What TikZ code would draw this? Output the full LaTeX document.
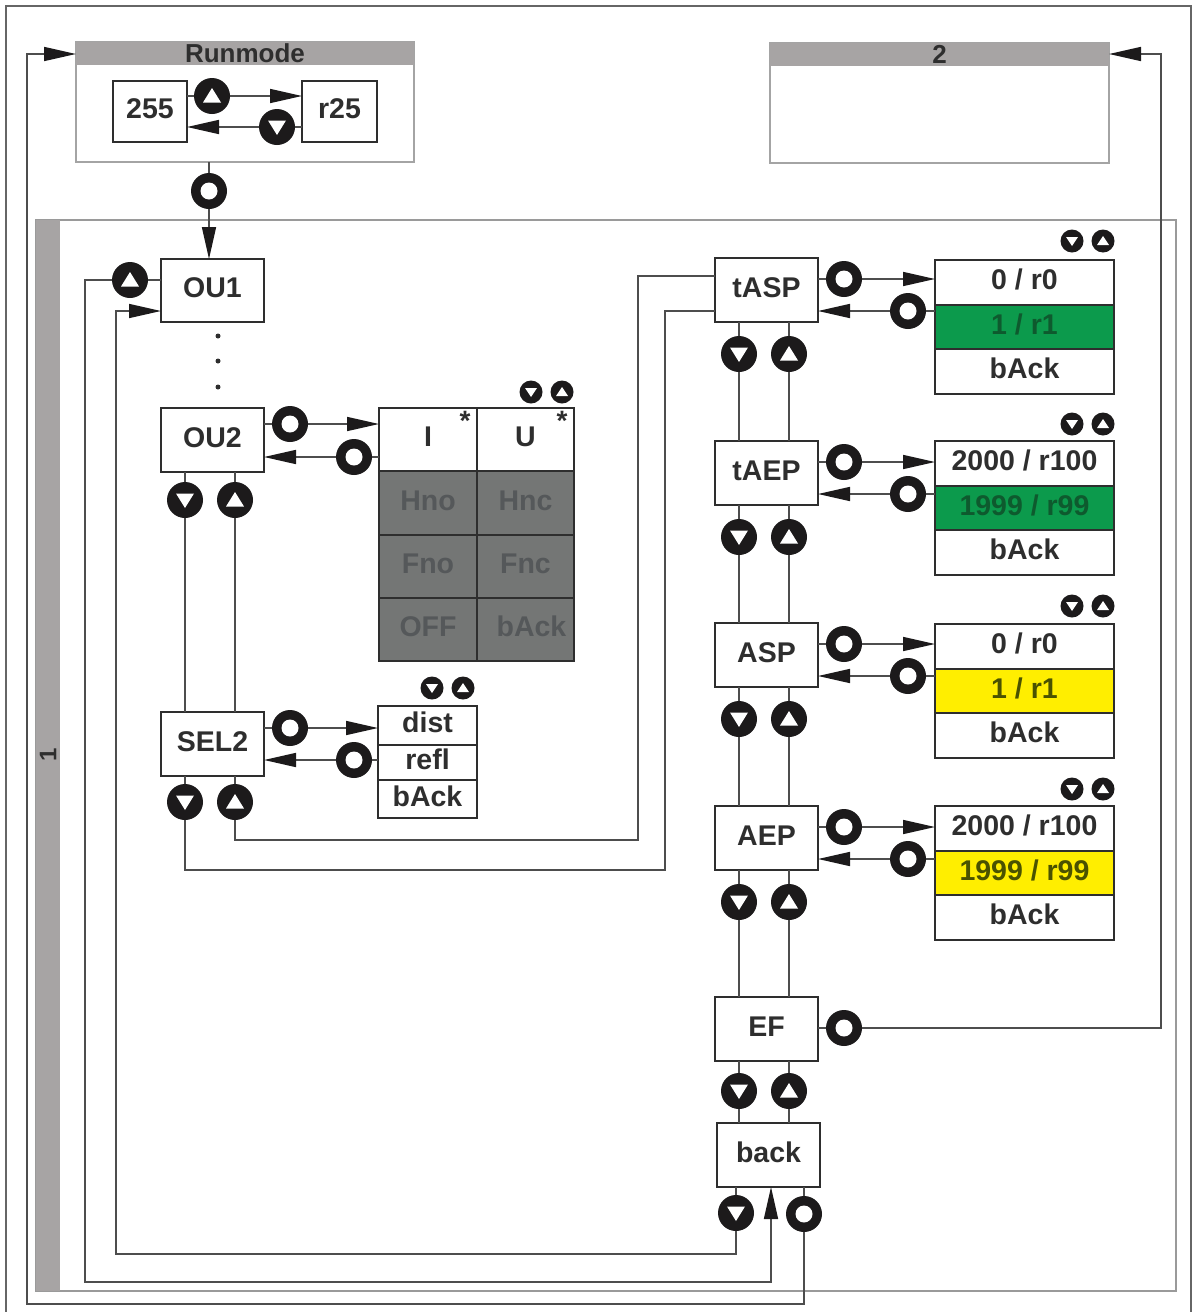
\documentclass[tikz,border=0pt]{standalone}
\usepackage{fontspec}
\setmainfont{Liberation Sans}
\usetikzlibrary{arrows.meta,calc}
\definecolor{ink}{HTML}{2E2E2E}
\definecolor{btnk}{HTML}{1C1A1B}
\definecolor{headg}{HTML}{A7A4A4}
\definecolor{frameg}{HTML}{9A9A9A}
\definecolor{outerg}{HTML}{666666}
\definecolor{cellg}{HTML}{747675}
\definecolor{celltxt}{HTML}{55585A}
\definecolor{grn}{HTML}{0C9A4C}
\definecolor{grntxt}{HTML}{0E5A2E}
\definecolor{yel}{HTML}{FFEE00}
\definecolor{yeltxt}{HTML}{4A5200}
\tikzset{
  x=1pt,y=-1pt,
  boxstyle/.style={draw=ink,line width=2pt,fill=white,inner sep=0pt,outer sep=0pt,
    font=\fontsize{28.5}{30}\selectfont\bfseries,text=ink,text height=20.5pt,text depth=6pt,align=center},
  btnbig/.style={circle,fill=btnk,minimum size=36pt,inner sep=0pt,outer sep=0pt},
  btnsmall/.style={circle,fill=btnk,minimum size=23pt,inner sep=0pt,outer sep=0pt},
  conn/.style={draw=ink!85,line width=1.6pt},
  arrowconn/.style={conn,-{Triangle[length=32pt,width=14pt,color=btnk]}},
  panel/.style={draw=frameg!90,line width=2pt,inner sep=0pt,outer sep=0pt},
  headbar/.style={fill=headg,draw=none,inner sep=0pt,outer sep=0pt,text=ink,
    font=\fontsize{26}{27}\selectfont\bfseries},
  dotnode/.style={circle,fill=ink,minimum size=5pt,inner sep=0pt},
}
% box from corners
\newcommand{\bx}[6][]{\node[boxstyle,minimum width={(#4-#2)*1pt},minimum height={(#5-#3)*1pt},#1] (#6) at ({(#2+#4)/2},{(#3+#5)/2})}
% name, x, y : buttons
\newcommand{\btnO}[3]{\node[btnbig] (#1) at (#2,#3) {};\fill[white] (#1.center) circle (8.5pt);}
\newcommand{\btnU}[3]{\node[btnbig] (#1) at (#2,#3) {};\fill[white] ([shift={(0,-8)}]#1.center) -- ([shift={(9,6.5)}]#1.center) -- ([shift={(-9,6.5)}]#1.center) -- cycle;}
\newcommand{\btnD}[3]{\node[btnbig] (#1) at (#2,#3) {};\fill[white] ([shift={(0,8)}]#1.center) -- ([shift={(9,-6.5)}]#1.center) -- ([shift={(-9,-6.5)}]#1.center) -- cycle;}
\newcommand{\smU}[3]{\node[btnsmall] (#1) at (#2,#3) {};\fill[white] ([shift={(0,-5)}]#1.center) -- ([shift={(6,4)}]#1.center) -- ([shift={(-6,4)}]#1.center) -- cycle;}
\newcommand{\smD}[3]{\node[btnsmall] (#1) at (#2,#3) {};\fill[white] ([shift={(0,5)}]#1.center) -- ([shift={(6,-4)}]#1.center) -- ([shift={(-6,-4)}]#1.center) -- cycle;}
% right-hand parameter group: name,label,ytop,tabletop,row1,row2,fill,textcolour
\newcommand{\paramgroup}[8]{%
  \pgfmathsetmacro{\ya}{#3+64}\pgfmathsetmacro{\ta}{#4+44.5}\pgfmathsetmacro{\tb}{#4+89}\pgfmathsetmacro{\tc}{#4+134}%
  \bx{715}{#3}{818}{\ya}{#1} {#2};
  \bx{935}{#4}{1114}{\ta}{#1a} {#5};
  \bx[fill=#7,text=#8]{935}{\ta}{1114}{\tb}{#1b} {#6};
  \bx{935}{\tb}{1114}{\tc}{#1c} {bAck};
  \pgfmathsetmacro{\ym}{#3+21}\btnO{#1in}{844}{\ym}
  \pgfmathsetmacro{\ym}{#3+53}\btnO{#1out}{908}{\ym}
  \pgfmathsetmacro{\ym}{#3+96}\btnD{#1d}{739}{\ym}\btnU{#1u}{789}{\ym}
  \pgfmathsetmacro{\ym}{#3-17}\smD{#1sd}{1072}{\ym}\smU{#1su}{1103}{\ym}
  \draw[conn] (#1.east |- #1in) -- (#1in);
  \draw[arrowconn] (#1in) -- (#1in -| #1a.west);
  \draw[conn] (#1a.west |- #1out) -- (#1out);
  \draw[arrowconn] (#1out) -- (#1out -| #1.east);
}
\begin{document}
\begin{tikzpicture}
\useasboundingbox (0,0) rectangle (1193,1312);
\fill[white] (0,0) rectangle (1193,1312);
% outer frame (runs off the bottom edge)
\draw[outerg,line width=2.4pt] (6,1312) -- (6,6) -- (1191,6) -- (1191,1312);
% group 1
\node[panel,draw=frameg,line width=1.6pt,minimum width=1140pt,minimum height=1071pt] (grp) at (606,755.5) {};
\fill[headg] (36,220) rectangle (60,1291);
\node[headbar,fill=none,font=\fontsize{24}{24}\selectfont\bfseries,rotate=90] (grplabel) at (48,755) {1};
% Runmode panel
\node[panel,minimum width=338pt,minimum height=120pt] (run) at (245,102) {};
\node[headbar,minimum width=338pt,minimum height=23pt] (runhead) at (245,53.5) {Runmode};
\bx{113}{81}{187}{142}{v255} {255};
\bx{302}{81}{377}{142}{vr25} {r25};
\btnU{runup}{212}{96}
\btnD{rundn}{277}{127}
\draw[conn] (v255.east |- runup) -- (runup);
\draw[arrowconn] (runup) -- (runup -| vr25.west);
\draw[conn] (vr25.west |- rundn) -- (rundn);
\draw[arrowconn] (rundn) -- (rundn -| v255.east);
% panel 2
\node[panel,minimum width=339pt,minimum height=120pt] (two) at (939.5,103) {};
\node[headbar,minimum width=339pt,minimum height=23pt] (twohead) at (939.5,54.5) {2};
% OU1
\bx{161}{259}{264}{322}{ou1} {OU1};
\btnO{runset}{209}{191}
\draw[conn] (run.south -| runset) -- (runset);
\draw[arrowconn] (runset) -- (runset |- ou1.north);
\btnU{ou1up}{130}{280}
\draw[conn] (ou1.west |- ou1up) -- (ou1up);
\node[dotnode] (dota) at (218,336) {};
\node[dotnode] (dotb) at (218,361) {};
\node[dotnode] (dotc) at (218,387) {};
% OU2
\bx{161}{408}{264}{472}{ou2} {OU2};
\btnO{ou2in}{290}{424}
\btnO{ou2out}{354}{457}
\smD{ou2sd}{531}{392}
\smU{ou2su}{562}{392}
\bx{379}{408}{477}{471}{cI} {I};
\bx{477}{408}{574}{471}{cU} {U};
\bx[fill=cellg,text=celltxt]{379}{471}{477}{535}{cHno} {Hno};
\bx[fill=cellg,text=celltxt]{477}{471}{574}{535}{cHnc} {Hnc};
\bx[fill=cellg,text=celltxt]{379}{535}{477}{598}{cFno} {Fno};
\bx[fill=cellg,text=celltxt]{477}{535}{574}{598}{cFnc} {Fnc};
\bx[fill=cellg,text=celltxt]{379}{598}{477}{661}{cOFF} {OFF};
\bx[fill=cellg,text=celltxt]{477}{598}{574}{661}{cbAck} {\hspace*{12pt}bAck};
\node[font=\fontsize{28}{28}\selectfont\bfseries,text=ink,inner sep=0pt] (starI) at (465,421) {*};
\node[font=\fontsize{28}{28}\selectfont\bfseries,text=ink,inner sep=0pt] (starU) at (562,421) {*};
\draw[conn] (ou2.east |- ou2in) -- (ou2in);
\draw[arrowconn] (ou2in) -- (ou2in -| cI.west);
\draw[conn] (cI.west |- ou2out) -- (ou2out);
\draw[arrowconn] (ou2out) -- (ou2out -| ou2.east);
\btnD{ou2d}{185}{500}
\btnU{ou2u}{235}{500}
% SEL2
\bx{161}{712}{264}{776}{sel} {SEL2};
\btnO{selin}{290}{728}
\btnO{selout}{354}{760}
\smD{selsd}{432}{688}
\smU{selsu}{463}{688}
\bx{378}{706}{477}{745}{sdist} {dist};
\bx{378}{745}{477}{780}{srefl} {refl};
\bx{378}{780}{477}{818}{sback} {bAck};
\draw[conn] (sel.east |- selin) -- (selin);
\draw[arrowconn] (selin) -- (selin -| sdist.west);
\draw[conn] (srefl.west |- selout) -- (selout);
\draw[arrowconn] (selout) -- (selout -| sel.east);
\draw[conn] (ou2d |- ou2.south) -- (ou2d) -- (ou2d |- sel.north);
\draw[conn] (ou2u |- ou2.south) -- (ou2u) -- (ou2u |- sel.north);
\btnD{seld}{185}{802}
\btnU{selu}{235}{802}
\draw[conn] (seld |- sel.south) -- (seld);
\draw[conn] (selu |- sel.south) -- (selu);
% right column
\paramgroup{tasp}{tASP}{258}{260}{0 / r0}{1 / r1}{grn}{grntxt}
\paramgroup{taep}{tAEP}{441}{441}{2000 / r100}{1999 / r99}{grn}{grntxt}
\paramgroup{asp}{ASP}{623}{624}{0 / r0}{1 / r1}{yel}{yeltxt}
\paramgroup{aep}{AEP}{806}{806}{2000 / r100}{1999 / r99}{yel}{yeltxt}
\foreach \p/\q in {tasp/taep,taep/asp,asp/aep}{
  \draw[conn] (\p d |- \p.south) -- (\p d) -- (\p d |- \q.north);
  \draw[conn] (\p u |- \p.south) -- (\p u) -- (\p u |- \q.north);
}
% SEL2 to tASP
\coordinate (sua) at (638,840);
\coordinate (sub) at (638,276);
\coordinate (sda) at (665,870);
\coordinate (sdb) at (665,311);
\draw[conn] (selu) |- (sua) -- (sub) -- (tasp.west |- sub);
\draw[conn] (seld) |- (sda) -- (sdb) -- (tasp.west |- sdb);
% EF
\bx{715}{997}{818}{1061}{ef} {EF};
\bx{717}{1123}{820}{1187}{bck} {back};
\btnO{efo}{844}{1028}
\btnD{efd}{739}{1091}
\btnU{efu}{789}{1091}
\draw[conn] (aepd |- aep.south) -- (aepd) -- (aepd |- ef.north);
\draw[conn] (aepu |- aep.south) -- (aepu) -- (aepu |- ef.north);
\draw[conn] (efd |- ef.south) -- (efd) -- (efd |- bck.north);
\draw[conn] (efu |- ef.south) -- (efu) -- (efu |- bck.north);
\draw[conn] (ef.east |- efo) -- (efo);
\coordinate (twoa) at (1161,1028);
\coordinate (twob) at (1161,54);
\draw[arrowconn] (efo) -- (twoa) -- (twob) -- (two.east |- twob);
% back
\btnD{bckd}{736}{1213}
\btnO{bcko}{804}{1214}
\draw[conn] (bckd |- bck.south) -- (bckd);
\draw[conn] (bcko |- bck.south) -- (bcko);
\coordinate (lpa) at (116,1254);
\coordinate (lpb) at (116,311);
\draw[arrowconn] (bckd) |- (lpa) -- (lpb) -- (ou1.west |- lpb);
\coordinate (upa) at (85,1282);
\coordinate (upb) at (771,1282);
\draw[arrowconn] (ou1up) -| (upa) -- (upb) -- (upb |- bck.south);
\coordinate (rma) at (27,1304);
\coordinate (rmb) at (27,54);
\draw[arrowconn] (bcko) |- (rma) -- (rmb) -- (run.west |- rmb);
\end{tikzpicture}
\end{document}
